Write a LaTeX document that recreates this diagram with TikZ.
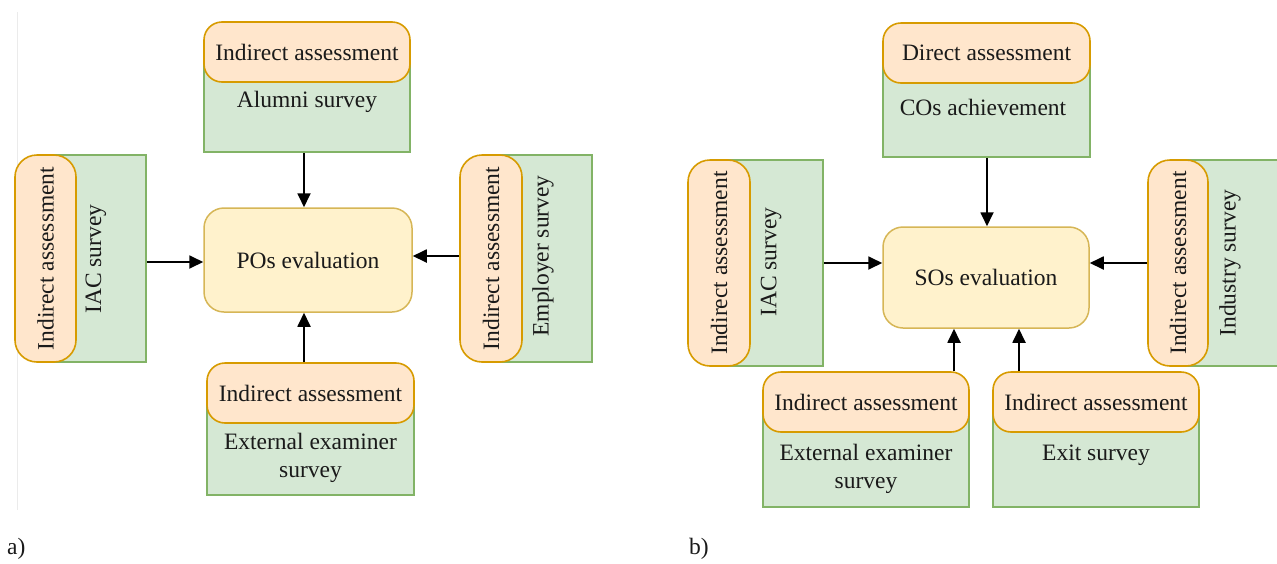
\documentclass[tikz,border=0pt]{standalone}
\usepackage{fontspec}
\setmainfont{Liberation Serif}
\usetikzlibrary{arrows.meta}
\definecolor{gfill}{HTML}{D5E8D4}
\definecolor{gline}{HTML}{82B366}
\definecolor{ofill}{HTML}{FFE6CC}
\definecolor{oline}{HTML}{D79B00}
\definecolor{yfill}{HTML}{FFF2CC}
\definecolor{yline}{HTML}{D6B656}
\definecolor{txt}{HTML}{1A1A1A}
\begin{document}
\begin{tikzpicture}[x=1pt,y=-1pt,
  every node/.style={font=\fontsize{23.5}{28}\selectfont, text=txt, inner sep=0pt},
  gbox/.style={draw=gline, fill=gfill, line width=1.5pt, rectangle},
  obox/.style={draw=oline, fill=ofill, line width=1.6pt, rectangle, rounded corners=18pt},
  ybox/.style={draw=yline, fill=yfill, line width=1.5pt, rectangle, rounded corners=20pt},
  vtxt/.style={rotate=90},
  ctxt/.style={align=center},
  arr/.style={-{Triangle[length=14pt,width=13pt]}, line width=1.8pt, black}
]
\useasboundingbox (0,0) rectangle (1277,563);
\clip (0,0) rectangle (1277,563);

% faint separator line
\draw[black!8, line width=1pt] (17,12) -- (17,510);

% ---------------- panel a ----------------
\node[gbox, minimum width=206pt, minimum height=100pt] (alumniG) at (307,102) {};
\node[obox, minimum width=206pt, minimum height=60pt] (alumniH) at (307,52) {Indirect assessment};
\node (alumniT) at (307,102) {Alumni survey};

\node[ybox, minimum width=208pt, minimum height=104pt] (pos) at (308,260) {POs evaluation};

\node[gbox, minimum width=100.5pt, minimum height=207pt] (iacG) at (95.75,258.5) {};
\node[obox, vtxt, rounded corners=22pt, minimum width=207pt, minimum height=61pt] (iacH) at (45.5,258.5) {Indirect assessment};
\node[vtxt] (iacT) at (96,259) {IAC survey};

\node[gbox, minimum width=101pt, minimum height=207pt] (emplG) at (541.5,258.5) {};
\node[obox, vtxt, rounded corners=22pt, minimum width=207pt, minimum height=62pt] (emplH) at (491,258.5) {Indirect assessment};
\node[vtxt] (emplT) at (543,256) {Employer survey};

\node[gbox, minimum width=207pt, minimum height=102pt] (extG) at (310.5,444) {};
\node[obox, minimum width=207pt, minimum height=60pt] (extH) at (310.5,393) {Indirect assessment};
\node[ctxt] (extT) at (310.5,458) {External examiner\\survey};

\coordinate (aTop) at ([xshift=-4pt]pos.north);
\coordinate (aBot) at ([xshift=-4pt]pos.south);
\draw[arr] (aTop |- alumniG.south) -- (aTop);
\draw[arr] (aBot |- extH.north) -- (aBot);
\draw[arr] (iacG.east |- 0,262) -- (pos.west |- 0,262);
\draw[arr] (emplH.north |- 0,256) -- (pos.east |- 0,256);

\node[anchor=west] (la) at (7,549) {a)};

% ---------------- panel b ----------------
\node[gbox, minimum width=207pt, minimum height=104pt] (cosG) at (986.5,105) {};
\node[obox, minimum width=207pt, minimum height=60pt] (cosH) at (986.5,53) {Direct assessment};
\node (cosT) at (983,107) {COs achievement};

\node[ybox, minimum width=206pt, minimum height=101pt] (sos) at (986,277.5) {SOs evaluation};

\node[gbox, minimum width=104pt, minimum height=206pt] (iacbG) at (771,263) {};
\node[obox, vtxt, rounded corners=22pt, minimum width=206pt, minimum height=62pt] (iacbH) at (719,263) {Indirect assessment};
\node[vtxt] (iacbT) at (771,262) {IAC survey};

\node[gbox, minimum width=112pt, minimum height=206pt] (indG) at (1234,263) {};
\node[obox, vtxt, rounded corners=22pt, minimum width=206pt, minimum height=60pt] (indH) at (1178,263) {Indirect assessment};
\node[vtxt] (indT) at (1230,263) {Industry survey};

\node[gbox, minimum width=206pt, minimum height=105pt] (extbG) at (866,454.5) {};
\node[obox, minimum width=206pt, minimum height=60pt] (extbH) at (866,402) {Indirect assessment};
\node[ctxt] (extbT) at (866,469) {External examiner\\survey};

\node[gbox, minimum width=206pt, minimum height=105pt] (exitG) at (1096,454.5) {};
\node[obox, minimum width=206pt, minimum height=60pt] (exitH) at (1096,402) {Indirect assessment};
\node (exitT) at (1096,455) {Exit survey};

\coordinate (bTop) at ([xshift=1pt]sos.north);
\coordinate (bB1) at ([xshift=-32pt]sos.south);
\coordinate (bB2) at ([xshift=33pt]sos.south);
\draw[arr] (bTop |- cosG.south) -- (bTop);
\draw[arr] (bB1 |- extbH.north) -- (bB1);
\draw[arr] (bB2 |- exitH.north) -- (bB2);
\draw[arr] (iacbG.east |- 0,263) -- (sos.west |- 0,263);
\draw[arr] (indH.north |- 0,263) -- (sos.east |- 0,263);

\node[anchor=west] (lb) at (689,549) {b)};
\end{tikzpicture}
\end{document}
